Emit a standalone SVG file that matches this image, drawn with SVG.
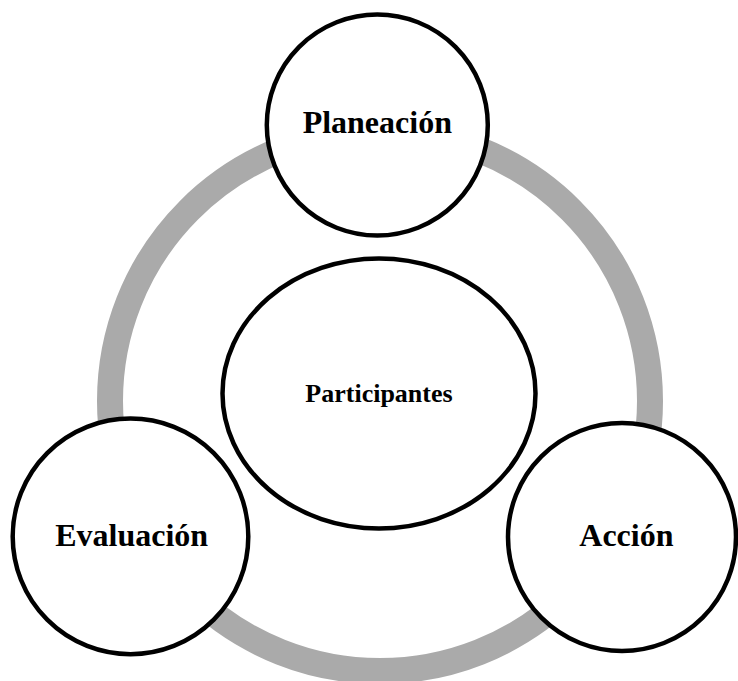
<svg xmlns="http://www.w3.org/2000/svg" width="738" height="681" viewBox="0 0 738 681">
<style>
.node{fill:#ffffff;stroke:#000000;stroke-width:4.5}
.lbl{font-family:"Liberation Serif","Times New Roman",serif;font-weight:bold;fill:#000000;text-anchor:middle}
.ring{fill:none;stroke:#aaaaaa;stroke-width:26}
</style>
<rect width="738" height="681" fill="#ffffff"/>
<g id="connectors">
<circle class="ring" cx="380" cy="401" r="270"/>
</g>
<g id="participantes">
<ellipse class="node" cx="379" cy="393.5" rx="156.5" ry="135"/>
<text class="lbl" x="379" y="401.5" font-size="26">Participantes</text>
</g>
<g id="planeacion">
<circle class="node" cx="377.3" cy="125" r="110.5"/>
<text class="lbl" x="377.3" y="133.3" font-size="32">Planeación</text>
</g>
<g id="evaluacion">
<circle class="node" cx="130.5" cy="536.4" r="117.8"/>
<text class="lbl" x="131.7" y="546" font-size="32">Evaluación</text>
</g>
<g id="accion">
<circle class="node" cx="622" cy="537" r="114"/>
<text class="lbl" x="626.4" y="545.5" font-size="32">Acción</text>
</g>
</svg>
